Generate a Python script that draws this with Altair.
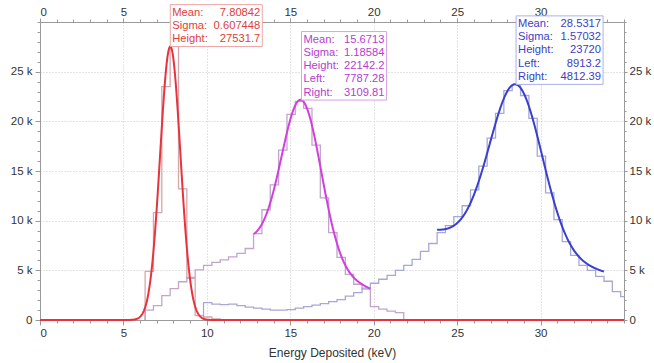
import altair as alt
import numpy as np
import pandas as pd

FONT = "Liberation Sans"
BIN_WIDTH = 0.5  # keV per histogram bin

# Spectrum histograms: left edge of first bin (keV) and counts per bin
red_start = 6.3
red_counts = [4900, 10800, 23500, 27600, 13200, 4200, 450, 300, 100]

mag_start = 6.3
mag_counts = [1000, 1450, 2450, 3150, 3850, 4300, 5050, 5500, 5800, 6050,
              6350, 6700, 7200, 8700, 11100, 13600, 17100, 20700, 22000, 21300,
              17600, 12300, 8800, 6300, 4600, 3600, 3100, 1350, 1100, 900, 750]

blue_start = 9.8
blue_counts = [1750, 1600, 1550, 1600, 1450, 1300, 1200, 1100, 1000, 1000,
               1050, 1200, 1350, 1500, 1650, 1850, 2050, 2400, 2750, 3200,
               3700, 4100, 4500, 5000, 5500, 6100, 6900, 7700, 8800, 9500,
               10400, 11500, 13100, 15500, 18300, 20800, 23100, 23700, 22600, 20300,
               16500, 12800, 10100, 7900, 6500, 5500, 5000, 4400, 3900, 2850, 2350]

# Gaussian fit results (with linear background Left -> Right over the fit window)
fit_mean = [7.80842, 15.6713, 28.5317]
fit_sigma = [0.607448, 1.18584, 1.57032]
fit_height = [27531.7, 22142.2, 23720]
fit_left = [None, 7787.28, 8913.2]
fit_right = [None, 3109.81, 4812.39]
fit_lo = [0.0, 12.8, 23.8]
fit_hi = [35.0, 19.8, 33.8]

curve_colors = ["#e8333f", "#d23fdc", "#3b3fcf"]
hist_colors = ["#d6a7aa", "#c1a5cc", "#a7a9d5"]
text_colors = ["#e0403a", "#b63dcc", "#3a3fc2"]
box_borders = ["#f0a6a6", "#d9a2e6", "#aab0ea"]
box_widths = [92, 85, 87]

# top-axis labels (the one at 10 keV sits under the first fit box)
top_labels = [0, 5, 15, 20, 25, 30]

X_DOMAIN = [0, 35]
Y_DOMAIN = [0, 30000]
x_scale = alt.Scale(domain=X_DOMAIN, nice=False, zero=False)
y_scale = alt.Scale(domain=Y_DOMAIN, nice=False, zero=False)

AX_COLOR = "#9a9a9a"
LBL_COLOR = "#333333"
k_expr = "datum.value == 0 ? '0' : (datum.value / 1000) + ' k'"

common = dict(domainColor=AX_COLOR, tickColor=AX_COLOR, labelColor=LBL_COLOR,
              labelFont=FONT, labelFontSize=11.5)

ax_bottom = alt.Axis(orient="bottom", values=list(range(0, 31, 5)), format="d",
                     title="Energy Deposited (keV)", titleFont=FONT, titleFontSize=12,
                     titleFontWeight="normal", titleColor=LBL_COLOR, titlePadding=9,
                     grid=True, gridColor="#c9c9c9", gridDash=[1, 2], tickSize=5,
                     labelPadding=2, **common)
ax_top = alt.Axis(orient="top", values=top_labels, format="d", title=None,
                  grid=False, tickSize=4, labelPadding=1, **common)
ax_bottom_minor = alt.Axis(orient="bottom", values=list(range(0, 36)), labels=False,
                           title=None, grid=False, domain=False, tickSize=3,
                           tickColor=AX_COLOR)
ax_top_minor = alt.Axis(orient="top", values=list(range(0, 36)), labels=False,
                        title=None, grid=False, domain=False, tickSize=3,
                        tickColor=AX_COLOR)

ax_left = alt.Axis(orient="left", values=list(range(0, 25001, 5000)), labelExpr=k_expr,
                   title=None, grid=True, gridColor="#c9c9c9", gridDash=[1, 2],
                   tickSize=5, labelPadding=3, **common)
ax_right = alt.Axis(orient="right", values=list(range(0, 25001, 5000)), labelExpr=k_expr,
                    title=None, grid=False, tickSize=3, labelPadding=2, **common)
ax_left_minor = alt.Axis(orient="left", values=list(range(0, 30001, 1000)), labels=False,
                         title=None, grid=False, domain=False, tickSize=3,
                         tickColor=AX_COLOR)
ax_right_minor = alt.Axis(orient="right", values=list(range(0, 30001, 1000)), labels=False,
                          title=None, grid=False, domain=False, tickSize=2,
                          tickColor=AX_COLOR)


def step_outline(start, counts):
    """Vertices of a histogram outline drawn as a stepped line."""
    xs, ys = [start], [0]
    for i, c in enumerate(counts):
        left = start + i * BIN_WIDTH
        xs += [left, left + BIN_WIDTH]
        ys += [c, c]
    xs.append(start + len(counts) * BIN_WIDTH)
    ys.append(0)
    return pd.DataFrame({"x": np.round(xs, 3), "y": ys, "i": range(len(xs))})


def hist_layer(start, counts, color, xaxis=None, yaxis=None):
    return alt.Chart(step_outline(start, counts)).mark_line(
        color=color, strokeWidth=1.3, clip=True
    ).encode(
        x=alt.X("x:Q", scale=x_scale, axis=xaxis),
        y=alt.Y("y:Q", scale=y_scale, axis=yaxis),
        order="i:Q",
    )


def fit_layer(k, xaxis=None, yaxis=None):
    m, s, h = fit_mean[k], fit_sigma[k], fit_height[k]
    lo, hi = fit_lo[k], fit_hi[k]
    left = fit_left[k] or 0.0
    right = fit_right[k] or 0.0
    span = hi - lo
    bg = f"({left} + ({right} - {left}) * (datum.x - {lo}) / {span})"
    amp = h - (left + (right - left) * (m - lo) / span)
    expr = f"{bg} + {amp} * exp(-0.5 * pow((datum.x - {m}) / {s}, 2))"
    step = 0.02
    return alt.Chart(alt.sequence(lo, hi + step / 2, step, as_="x")).transform_calculate(
        y=expr
    ).mark_line(color=curve_colors[k], strokeWidth=2).encode(
        x=alt.X("x:Q", scale=x_scale, axis=xaxis),
        y=alt.Y("y:Q", scale=y_scale, axis=yaxis),
    )


def info_box(k):
    names = ["Mean:", "Sigma:", "Height:"]
    vals = [fit_mean[k], fit_sigma[k], fit_height[k]]
    if fit_left[k] is not None:
        names += ["Left:", "Right:"]
        vals += [fit_left[k], fit_right[k]]
    line_h = 13.3
    h = len(names) * line_h + 2
    w = box_widths[k]
    df = pd.DataFrame({
        "x": [fit_mean[k]], "y": [fit_height[k]],
        "names": ["\n".join(names)],
        "vals": ["\n".join(f"{v:g}" for v in vals)],
    })
    base = alt.Chart(df).encode(
        x=alt.X("x:Q", scale=x_scale, axis=None),
        y=alt.Y("y:Q", scale=y_scale, axis=None),
    )
    rect = base.mark_rect(fill="white", stroke=box_borders[k], strokeWidth=1,
                          x2Offset=w, yOffset=-h).encode(x2="x:Q", y2="y:Q")
    txt = dict(baseline="top", dy=-h + 2, lineBreak="\n", lineHeight=line_h,
               font=FONT, fontSize=11.2, color=text_colors[k])
    names_t = base.mark_text(align="left", dx=2, **txt).encode(text="names:N")
    vals_t = base.mark_text(align="right", dx=w - 2, **txt).encode(text="vals:N")
    return [rect, names_t, vals_t]


layers = [
    hist_layer(red_start, red_counts, hist_colors[0], ax_bottom, ax_left),
    hist_layer(mag_start, mag_counts, hist_colors[1], ax_top, ax_right),
    hist_layer(blue_start, blue_counts, hist_colors[2], ax_bottom_minor, ax_left_minor),
    fit_layer(0, ax_top_minor, ax_right_minor),
    fit_layer(1),
    fit_layer(2),
]
for k in range(3):
    layers += info_box(k)

chart = alt.layer(*layers).resolve_axis(
    x="independent", y="independent"
).properties(
    width=584, height=298,
    autosize=alt.AutoSizeParams(type="none"),
    padding={"left": 40, "top": 22, "right": 30, "bottom": 43},
    background="white",
).configure(font=FONT).configure_view(strokeWidth=0)

chart.save("out.html", embed_options={"renderer": "svg", "actions": False})
